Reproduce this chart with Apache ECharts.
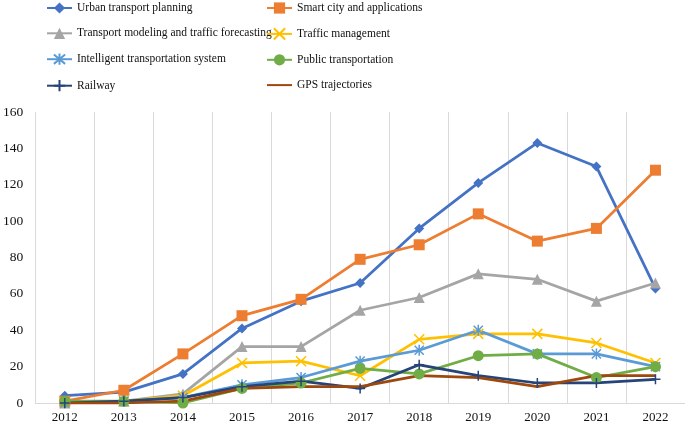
<!DOCTYPE html>
<html>
<head>
<meta charset="utf-8">
<script src="https://cdn.jsdelivr.net/npm/echarts@6/dist/echarts.min.js"></script>
<style>
html,body{margin:0;padding:0;background:#fff;}
#chart{width:685px;height:424px;}
</style>
</head>
<body>
<div id="chart"></div>
<script>
const years = ['2012','2013','2014','2015','2016','2017','2018','2019','2020','2021','2022'];
const yTicks = [0, 20, 40, 60, 80, 100, 120, 140, 160];

const seriesNames = [
  'Urban transport planning',
  'Smart city and applications',
  'Transport modeling and traffic forecasting',
  'Traffic management',
  'Intelligent transportation system',
  'Public transportation',
  'Railway',
  'GPS trajectories'
];

const urbanPlanning   = [4, 6, 16, 41, 56, 66, 96, 121, 143, 130, 63];
const smartCity       = [1, 7, 27, 48, 57, 79, 87, 104, 89, 96, 128];
const transportModel  = [0, 1, 5, 31, 31, 51, 58, 71, 68, 56, 66];
const trafficMgmt     = [0, 1, 4, 22, 23, 15, 35, 38, 38, 33, 22];
const its             = [0, 1, 3, 10, 14, 23, 29, 40, 27, 27, 20];
const publicTransport = [1, 1, 0, 8, 11, 19, 16, 26, 27, 14, 20];
const railway         = [0, 1, 3, 9, 12, 8, 21, 15, 11, 11, 13];
const gpsTraj         = [0, 0, 1, 8, 9, 9, 15, 14, 9, 15, 15];

const dataSets = [urbanPlanning, smartCity, transportModel, trafficMgmt, its, publicTransport, railway, gpsTraj];
const colors = ['#4472C4', '#ED7D31', '#A5A5A5', '#FFC000', '#5B9BD5', '#70AD47', '#264478', '#9E480E'];
const symbols = [
  'diamond',
  'rect',
  'triangle',
  'path://M0,0L10,10M10,0L0,10',
  'path://M0,0L10,10M10,0L0,10M5,-1L5,11',
  'circle',
  'path://M5,0L5,10M0,5L10,5',
  'none'
];
const symbolSizes = [10, 11, 11, 10, 11, 11, 10, 0];

const FONT = '"Liberation Serif", "Times New Roman", serif';

const chart = echarts.init(document.getElementById('chart'), null, {renderer: 'canvas'});

const series = seriesNames.map((name, i) => ({
  name: name,
  type: 'line',
  data: dataSets[i],
  symbol: symbols[i],
  symbolSize: symbolSizes[i],
  symbolKeepAspect: true,
  showSymbol: symbols[i] !== 'none',
  lineStyle: {color: colors[i], width: 2.75},
  itemStyle: {
    color: colors[i],
    borderColor: colors[i],
    borderWidth: symbols[i].indexOf('path://') === 0 ? 1.5 : 0
  },
  emphasis: {disabled: true},
  animation: false
}));

function legendItem(i) {
  if (symbols[i] === 'none') {
    return {name: seriesNames[i], itemStyle: {opacity: 0}};
  }
  return {name: seriesNames[i]};
}

const legendBase = {
  orient: 'vertical',
  top: 2,
  padding: 0,
  itemWidth: 25,
  itemHeight: 14,
  itemGap: 13.3,
  selectedMode: false,
  textStyle: {fontFamily: FONT, fontSize: 11.5, color: '#111'}
};

chart.setOption({
  animation: false,
  color: colors,
  legend: [
    Object.assign({}, legendBase, {left: 46, data: [legendItem(0), legendItem(2), legendItem(4), legendItem(6)]}),
    Object.assign({}, legendBase, {left: 266, data: [legendItem(1), legendItem(3), legendItem(5), legendItem(7)]})
  ],
  grid: {left: 34, right: 0, top: 112, bottom: 21, containLabel: false},
  xAxis: {
    type: 'category',
    data: years,
    boundaryGap: true,
    axisLine: {show: true, lineStyle: {color: '#d9d9d9', width: 1}},
    axisTick: {show: false},
    splitLine: {show: true, lineStyle: {color: '#d9d9d9', width: 1}},
    axisLabel: {fontFamily: FONT, fontSize: 13, color: '#111', margin: 8}
  },
  yAxis: {
    type: 'value',
    min: yTicks[0],
    max: yTicks[yTicks.length - 1],
    interval: yTicks[1] - yTicks[0],
    axisLine: {show: false},
    axisTick: {show: false},
    splitLine: {show: false},
    axisLabel: {fontFamily: FONT, fontSize: 13.5, color: '#111', margin: 12}
  },
  series: series
});
</script>
</body>
</html>
